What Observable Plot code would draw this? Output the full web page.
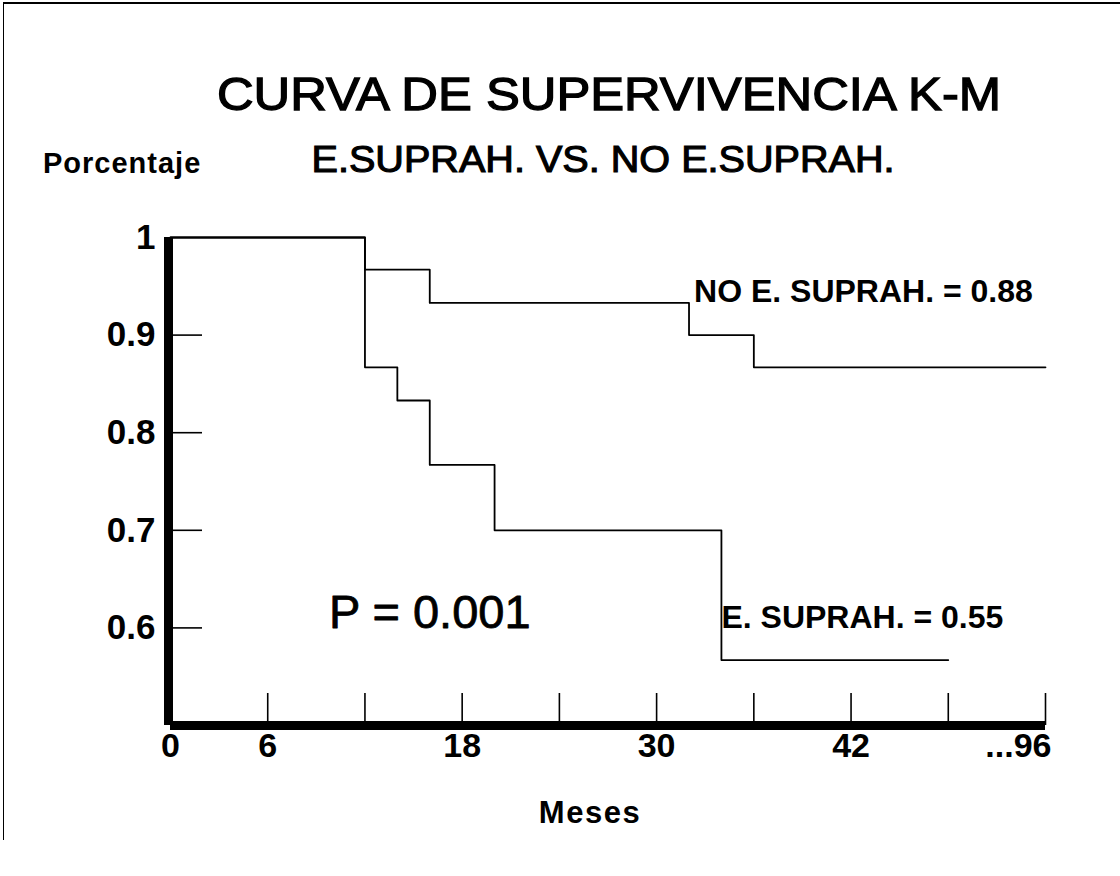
<!DOCTYPE html>
<html>
<head>
<meta charset="utf-8">
<script src="https://cdn.jsdelivr.net/npm/d3@7"></script>
<script src="https://cdn.jsdelivr.net/npm/@observablehq/plot@0.6"></script>
<style>
  html, body { margin: 0; padding: 0; background: #fff; }
  #page { position: relative; width: 1120px; height: 876px; overflow: hidden; background: #fff;
          font-family: "Liberation Sans", Arial, Helvetica, sans-serif; color: #000; }
  #frame { position: absolute; left: 3px; top: 2px; width: 1117px; height: 838px;
           border-top: 2px solid #000; border-left: 1.5px solid #000; box-sizing: border-box; }
  .txt { position: absolute; white-space: nowrap; line-height: 1; }
  #title { left: 0; width: 1218px; text-align: center; top: 70px; font-size: 47px; -webkit-text-stroke: 1.3px #000; }
  #title span, #subtitle span { display: inline-block; transform-origin: center; }
  #title span { transform: scaleX(1.08); }
  #subtitle { left: 0; width: 1206px; text-align: center; top: 142px; font-size: 36px; -webkit-text-stroke: 1.1px #000; }
  #subtitle span { transform: scaleX(1.1); }
  #ylab { left: 43px; top: 149px; font-size: 29px; font-weight: bold; letter-spacing: 1px; }
  #xlab { left: 0; width: 1180px; text-align: center; top: 797px; font-size: 31px; font-weight: bold; letter-spacing: 1.5px; }
  #chart { position: absolute; left: 0; top: 0; }
</style>
</head>
<body>
<div id="page">
  <div id="frame"></div>
  <div id="title" class="txt"><span>CURVA DE SUPERVIVENCIA K-M</span></div>
  <div id="subtitle" class="txt"><span>E.SUPRAH. VS. NO E.SUPRAH.</span></div>
  <div id="ylab" class="txt">Porcentaje</div>
  <div id="xlab" class="txt">Meses</div>
  <div id="chart"></div>
</div>
<script>
// ---- data ----
const noTimes = [0, 12, 16, 32, 36, 54];
const noSurv  = [1, 0.967, 0.933, 0.9, 0.867, 0.867];
const eTimes  = [0, 12, 14, 16, 20, 34, 48];
const eSurv   = [1, 0.867, 0.833, 0.767, 0.7, 0.567, 0.567];

const xDomain = [0, 54];
const yDomain = [0.5, 1];
const xTickMarks  = [6, 12, 18, 24, 30, 36, 42, 48, 54];
const xLabelTicks = [0, 6, 18, 30, 42];
const xLastTick   = [54];
const xLastLabel  = "...96";
const yTickMarks  = [0.6, 0.7, 0.8, 0.9];
const yLabelTicks = [0.6, 0.7, 0.8, 0.9, 1];

const noLabel = "NO E. SUPRAH. = 0.88";
const eLabel  = "E. SUPRAH. = 0.55";
const pLabel  = "P = 0.001";

const noData = noTimes.map((t, i) => ({t, s: noSurv[i]}));
const eData  = eTimes.map((t, i) => ({t, s: eSurv[i]}));

const W = 1120, H = 876;
const mL = 170, mR = 75, mT = 237, mB = 151;
const innerW = W - mL - mR, innerH = H - mT - mB;

const chart = Plot.plot({
  width: W,
  height: H,
  marginLeft: mL, marginRight: mR, marginTop: mT, marginBottom: mB,
  style: {background: "transparent", fontFamily: "'Liberation Sans', Arial, sans-serif", color: "#000", overflow: "visible"},
  x: {domain: xDomain},
  y: {domain: yDomain},
  marks: [
    // inward tick marks
    Plot.tickX(xTickMarks, {x: d => d, stroke: "#000", strokeWidth: 1.6, insetTop: innerH - 32}),
    Plot.tickY(yTickMarks, {y: d => d, stroke: "#000", strokeWidth: 1.6, insetRight: innerW - 32}),
    // survival curves
    Plot.line(noData, {x: "t", y: "s", curve: "step-after", stroke: "#000", strokeWidth: 1.8}),
    Plot.line(eData,  {x: "t", y: "s", curve: "step-after", stroke: "#000", strokeWidth: 1.8}),
    // thick axis lines
    Plot.ruleX([xDomain[0]], {y1: yDomain[0], y2: yDomain[1], stroke: "#000", strokeWidth: 9, dx: -2}),
    Plot.ruleY([yDomain[0]], {x1: xDomain[0], x2: xDomain[1], stroke: "#000", strokeWidth: 9}),
    // axes labels
    Plot.axisY(yLabelTicks, {anchor: "left", tickSize: 0, tickPadding: 15, tickFormat: d => String(d),
      fontSize: 35, fontWeight: "bold", letterSpacing: 4, label: null}),
    Plot.axisX(xLabelTicks, {anchor: "bottom", tickSize: 0, tickPadding: 7, tickFormat: d => String(d),
      fontSize: 34, fontWeight: "bold", letterSpacing: 2, label: null}),
    Plot.axisX(xLastTick, {anchor: "bottom", tickSize: 0, tickPadding: 7, tickFormat: () => xLastLabel,
      textAnchor: "end", dx: 6, fontSize: 34, fontWeight: "bold", letterSpacing: 3, label: null}),
    // annotations
    Plot.text([noLabel], {x: noTimes[3], y: noSurv[2], text: d => d, textAnchor: "start", lineAnchor: "bottom",
      dx: 5, dy: -1, fontSize: 32, fontWeight: "bold", letterSpacing: 0.8}),
    Plot.text([eLabel], {x: eTimes[5], y: 0.6, text: d => d, textAnchor: "start", lineAnchor: "bottom",
      dx: 0, dy: 0, fontSize: 32, fontWeight: "bold", letterSpacing: 1.8}),
    Plot.text([pLabel], {x: 16, y: 0.6, text: d => d, textAnchor: "middle", lineAnchor: "bottom",
      dy: 0, fontSize: 47, fill: "#000", stroke: "#000", strokeWidth: 0.8})
  ]
});
document.getElementById("chart").appendChild(chart);
</script>
</body>
</html>
